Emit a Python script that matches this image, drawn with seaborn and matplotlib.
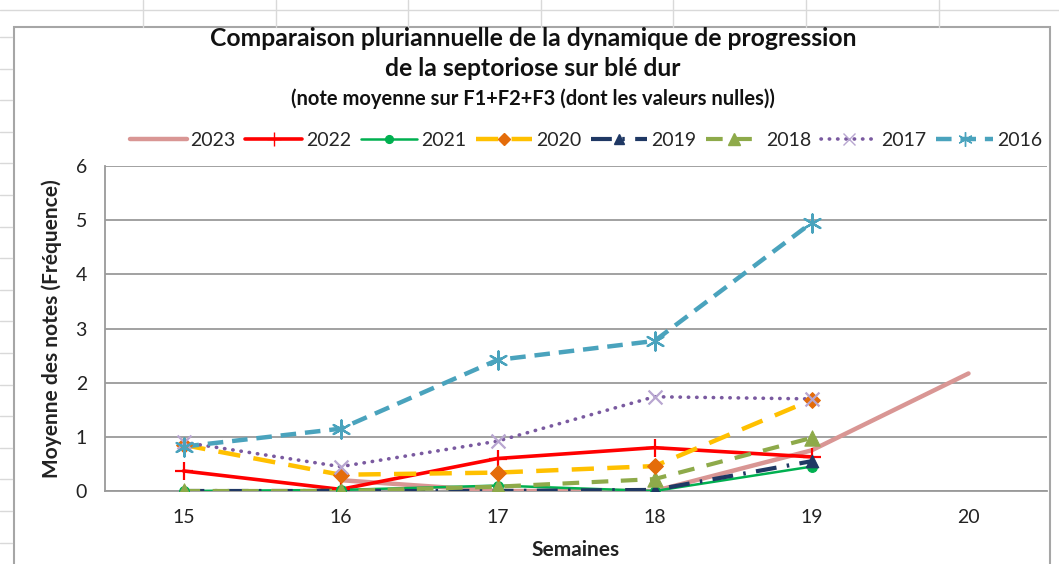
import numpy as np
import pandas as pd
import matplotlib
matplotlib.use("Agg")
import matplotlib.pyplot as plt
from matplotlib.lines import Line2D
from matplotlib.patches import Rectangle
import seaborn as sns

# ---- data ----
weeks = ["15", "16", "17", "18", "19", "20"]
years = ["2023", "2022", "2021", "2020", "2019", "2018", "2017", "2016"]
y2023 = [np.nan, 0.20, 0.00, 0.00, 0.75, 2.17]
y2022 = [0.37, 0.03, 0.60, 0.80, 0.63, np.nan]
y2021 = [0.00, 0.02, 0.10, 0.00, 0.45, np.nan]
y2020 = [0.85, 0.30, 0.34, 0.46, 1.68, np.nan]
y2019 = [0.00, 0.00, 0.00, 0.02, 0.55, np.nan]
y2018 = [0.00, 0.00, 0.08, 0.22, 0.98, np.nan]
y2017 = [0.90, 0.45, 0.92, 1.74, 1.70, np.nan]
y2016 = [0.82, 1.15, 2.42, 2.77, 4.95, np.nan]
series = {"2023": y2023, "2022": y2022, "2021": y2021, "2020": y2020,
          "2019": y2019, "2018": y2018, "2017": y2017, "2016": y2016}

title1 = "Comparaison pluriannuelle de la dynamique de progression"
title2 = "de la septoriose sur blé dur"
title3 = "(note moyenne sur F1+F2+F3 (dont les valeurs nulles))"
ylabel = "Moyenne des notes (Fréquence)"
xlabel = "Semaines"

# ---- styles ----
styles = {
    "2023": dict(color="#d99694", lw=3.2, ls="-", marker=None, mfc=None, ms=0),
    "2022": dict(color="#ff0000", lw=2.6, ls="-", marker="+", mfc="#ff0000", ms=13),
    "2021": dict(color="#00b050", lw=1.8, ls="-", marker="o", mfc="#00b050", ms=7),
    "2020": dict(color="#ffc000", lw=3.2, ls=(0, (5, 3)), marker="D", mfc="#e46c0a", ms=8),
    "2019": dict(color="#1f3864", lw=3.0, ls=(0, (5, 2.5, 0.6, 2.5)), marker="^", mfc="#1f3864", ms=9),
    "2018": dict(color="#8eaa4a", lw=3.0, ls=(0, (4, 3)), marker="^", mfc="#8eaa4a", ms=11),
    "2017": dict(color="#7a5aa0", lw=2.6, ls=(0, (0.1, 2.2)), marker="x", mfc="#b8a6d0", ms=10),
    "2016": dict(color="#4aa3bd", lw=3.2, ls=(0, (3.5, 2)), marker=(6, 2, 0), mfc="#4aa3bd", ms=13),
}

sns.set_theme(style="white")
plt.rcParams["font.family"] = ["Lato", "DejaVu Sans"]

fig = plt.figure(figsize=(10.59, 5.64), dpi=100)
ax = fig.add_axes([105 / 1059, 1 - 491 / 564, (1047 - 105) / 1059, (491 - 166) / 564])

x = np.arange(len(weeks))
draw_order = ["2023", "2022", "2021", "2019", "2018", "2020", "2017", "2016"]
handles = {}
for yr in draw_order:
    st = styles[yr]
    df = pd.DataFrame({"x": x, "y": series[yr]}).dropna()
    sns.lineplot(data=df, x="x", y="y", ax=ax, color=st["color"], linewidth=st["lw"],
                 linestyle=st["ls"], legend=False, zorder=3)
    ln = ax.lines[-1]
    ln.set_dash_capstyle("round" if yr == "2017" else "butt")
    if st["marker"] is not None:
        ax.scatter(df["x"], df["y"], marker=st["marker"], s=st["ms"] ** 2,
                   color=st["mfc"], edgecolors=st["mfc"] if st["marker"] not in ("x", "+") else None,
                   linewidths=1.6 if st["marker"] in ("x", "+", (6, 2, 0)) else 0.8, zorder=4)
    h = Line2D([0], [0], color=st["color"], lw=st["lw"], ls=st["ls"],
               marker=st["marker"], markerfacecolor=st["mfc"],
               markeredgecolor=st["mfc"], markersize=st["ms"] * 0.8)
    if yr == "2017":
        h.set_dash_capstyle("round")
    handles[yr] = h

ax.set_xlim(-0.5, len(weeks) - 0.5)
ax.set_ylim(0, 6)
ax.set_xticks(x)
ax.set_xticklabels(weeks)
ax.set_xticks(np.arange(-0.5, len(weeks)), minor=True)
ax.set_yticks(range(7))
ax.tick_params(axis="x", which="major", length=0, labelsize=14, pad=13, colors="#222222")
ax.tick_params(axis="x", which="minor", length=5, width=1, color="#888888", direction="out")
ax.tick_params(axis="y", length=5, width=1, color="#888888", direction="out", labelsize=14,
               pad=8)
for lab in ax.get_yticklabels():
    lab.set_color("#222222")
ax.grid(axis="y", color="#9a9a9a", lw=1.3)
ax.grid(axis="x", visible=False)
for s in ["top", "right"]:
    ax.spines[s].set_visible(False)
for s in ["left", "bottom"]:
    ax.spines[s].set_color("#9a9a9a")
    ax.spines[s].set_linewidth(1.3)
ax.set_xlabel(xlabel, fontsize=15, fontweight="bold", labelpad=10, color="#222222")
ax.set_ylabel(ylabel, fontsize=15, fontweight="bold", labelpad=10, color="#222222")

fig.text(533 / 1059, 1 - 38 / 564, title1, ha="center", va="center", fontsize=17.8, fontweight="bold", color="#111111")
fig.text(533 / 1059, 1 - 69 / 564, title2, ha="center", va="center", fontsize=17.8, fontweight="bold", color="#111111")
fig.text(533 / 1059, 1 - 99 / 564, title3, ha="center", va="center", fontsize=14.5, fontweight="bold", color="#111111")

leg = fig.legend([handles[y] for y in years], years, loc="center", ncol=8,
                 bbox_to_anchor=(586 / 1059, 1 - 140 / 564), frameon=False, fontsize=14,
                 handlelength=2.9, columnspacing=0.5, handletextpad=0.2,
                 borderaxespad=0, borderpad=0)

# spreadsheet background and chart border
for k in range(7):
    xx = (143 + 132.6 * k) / 1059
    fig.add_artist(Line2D([xx, xx], [1 - 27 / 564, 1.0], color="#d9d9d9", lw=1, transform=fig.transFigure))
fig.add_artist(Line2D([0, 1], [1 - 10 / 564] * 2, color="#d9d9d9", lw=1, transform=fig.transFigure))
for k in range(18):
    yy = 1 - (37 + 31.6 * k) / 564
    fig.add_artist(Line2D([0, 12 / 1059], [yy, yy], color="#d9d9d9", lw=1, transform=fig.transFigure))
fig.add_artist(Rectangle((14 / 1059, -0.05), (1050 - 14) / 1059, 1.05 - 27 / 564, fill=False,
                         edgecolor="#a6a6a6", lw=1.5, transform=fig.transFigure))

fig.savefig("out.png", dpi=100)
